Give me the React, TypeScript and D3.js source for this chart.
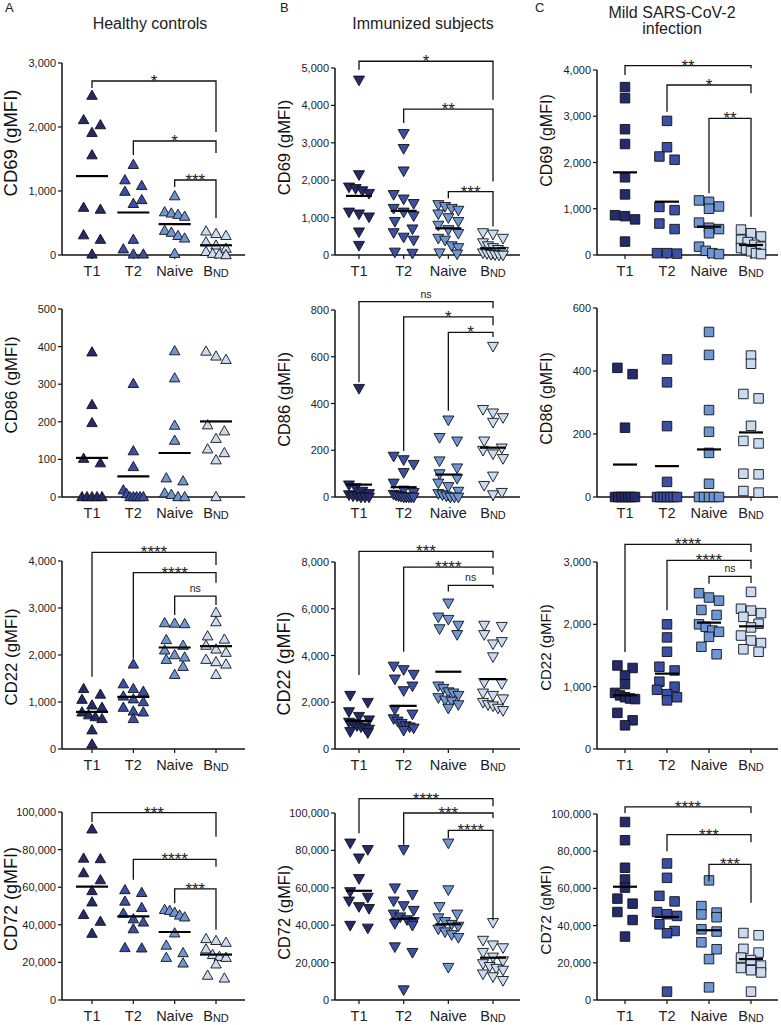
import { useEffect, useRef } from "react";
import * as d3 from "d3";

// B cell groups shown on every panel
const groups = ["T1", "T2", "Naive", "BND"];
const groupColors = ["#232b6d", "#3b4fa5", "#6e96d4", "#c8dbf3"];

const columnTitles = ["Healthy controls", "Immunized subjects", "Mild SARS-CoV-2\ninfection"];
const columnLetters = ["A", "B", "C"];
const rowLabels = ["CD69 (gMFI)", "CD86 (gMFI)", "CD22 (gMFI)", "CD72 (gMFI)"];

// ---------- Healthy controls ----------
const cd69HealthyTicks = [0, 1000, 2000, 3000];
const cd69HealthyValues = [
  [2490, 2110, 2030, 1910, 1560, 740, 710, 310, 240, 10],
  [1410, 1170, 1080, 990, 860, 800, 240, 90, 10, 10],
  [920, 670, 650, 630, 600, 380, 350, 300, 260, 20],
  [370, 330, 300, 200, 150, 100, 50, 20, 10, 0],
];
const cd69HealthyMeans = [1233, 664, 481, 152];
const cd69HealthyBrackets = [
  { from: 0, to: 3, label: "*", y: 2719, left: 2609, right: 1922 },
  { from: 1, to: 3, label: "*", y: 1781, left: 1562, right: 1594 },
  { from: 2, to: 3, label: "***", y: 1172, left: 1062, right: 578 },
];

const cd86HealthyTicks = [0, 100, 200, 300, 400, 500];
const cd86HealthyValues = [
  [385, 245, 197, 102, 90, 0, 0, 0, 0, 0],
  [301, 122, 80, 18, 8, 0, 0, 0, 0, 0],
  [388, 316, 190, 150, 50, 42, 10, 6, 0, 0],
  [387, 374, 365, 191, 175, 155, 127, 117, 98, 0],
];
const cd86HealthyMeans = [104, 55, 117, 201];
const cd86HealthyBrackets: any[] = [];

const cd22HealthyTicks = [0, 1000, 2000, 3000, 4000];
const cd22HealthyValues = [
  [1280, 1160, 1050, 930, 880, 780, 720, 680, 640, 400, 100],
  [1800, 1380, 1280, 1220, 1120, 1060, 1000, 880, 800, 780, 640],
  [2680, 2670, 2660, 2320, 2200, 2100, 2000, 1950, 1900, 1750, 1580],
  [2900, 2700, 2400, 2330, 2200, 2120, 2050, 1900, 1850, 1800, 1580],
];
const cd22HealthyMeans = [789, 1108, 2160, 2188];
const cd22HealthyBrackets = [
  { from: 0, to: 3, label: "****", y: 4185, left: 1535, right: 3915 },
  { from: 1, to: 3, label: "****", y: 3751, left: 1925, right: 3538 },
  { from: 2, to: 3, label: "ns", y: 3254, left: 2849, right: 3062 },
];

const cd72HealthyTicks = [0, 20000, 40000, 60000, 80000, 100000];
const cd72HealthyValues = [
  [90800, 75300, 75000, 67500, 63800, 58000, 52000, 45300, 41700, 35300],
  [58500, 57000, 52400, 49000, 46000, 43000, 41300, 37700, 27700, 27500],
  [48000, 47500, 46500, 45000, 44000, 35500, 29000, 25000, 22500, 19500],
  [32500, 31500, 30500, 27000, 24000, 23000, 22500, 19000, 13000, 11500],
];
const cd72HealthyMeans = [60300, 44450, 36160, 24170];
const cd72HealthyBrackets = [
  { from: 0, to: 3, label: "***", y: 99670, left: 94700, right: 86800 },
  { from: 1, to: 3, label: "****", y: 74800, left: 63900, right: 70900 },
  { from: 2, to: 3, label: "***", y: 59100, left: 51500, right: 37400 },
];

// ---------- Immunized subjects ----------
const cd69ImmTicks = [0, 1000, 2000, 3000, 4000, 5000];
const cd69ImmValues = [
  [4680, 2150, 1820, 1780, 1720, 1650, 1150, 1100, 1020, 620, 260],
  [3250, 2850, 2250, 1620, 1500, 1380, 1250, 1150, 1050, 900, 700, 600, 480, 400, 80, 50],
  [1350, 1300, 1250, 1200, 1100, 1000, 900, 800, 680, 580, 450, 400, 250, 200, 60, 30],
  [600, 560, 450, 330, 250, 200, 150, 100, 60, 40, 20, 10, 0, 0],
];
const cd69ImmMeans = [1580, 1180, 714, 179];
const cd69ImmBrackets = [
  { from: 0, to: 3, label: "*", y: 5180, left: 4955, right: 4150 },
  { from: 1, to: 3, label: "**", y: 3900, left: 3527, right: 1964 },
  { from: 2, to: 3, label: "***", y: 1697, left: 1518, right: 759 },
];

const cd86ImmTicks = [0, 200, 400, 600, 800];
const cd86ImmValues = [
  [465, 52, 40, 25, 15, 10, 5, 5, 0, 0, 0],
  [175, 160, 140, 105, 60, 30, 20, 12, 8, 5, 3, 0, 0, 0, 0, 0],
  [330, 255, 240, 155, 125, 100, 80, 60, 45, 25, 15, 10, 5, 0, 0, 0],
  [645, 375, 360, 340, 320, 240, 210, 200, 185, 165, 90, 50, 20, 10],
];
const cd86ImmMeans = [53, 42, 96, 211];
const cd86ImmBrackets = [
  { from: 0, to: 3, label: "ns", y: 836, left: 491, right: 807 },
  { from: 1, to: 3, label: "*", y: 771, left: 197, right: 735 },
  { from: 2, to: 3, label: "*", y: 704, left: 369, right: 685 },
];

const cd22ImmTicks = [0, 2000, 4000, 6000, 8000];
const cd22ImmValues = [
  [2300, 2000, 1600, 1400, 1250, 1150, 1100, 1000, 950, 900, 850, 750, 700],
  [3550, 3400, 3200, 3000, 2700, 2500, 1700, 1500, 1300, 1200, 1100, 1000, 950, 900, 800],
  [6250, 5650, 5550, 5300, 5150, 4900, 2700, 2600, 2450, 2400, 2300, 2200, 2100, 2050, 1900, 1750],
  [5300, 5250, 4900, 4600, 4500, 3950, 2850, 2800, 2400, 2300, 2150, 2000, 1900, 1850, 1750, 1650],
];
const cd22ImmMeans = [1202, 1846, 3306, 2991];
const cd22ImmBrackets = [
  { from: 0, to: 3, label: "***", y: 8457, left: 3163, right: 8171 },
  { from: 1, to: 3, label: "****", y: 7785, left: 4164, right: 7455 },
  { from: 2, to: 3, label: "ns", y: 6997, left: 6740, right: 6883 },
];

const cd72ImmTicks = [0, 20000, 40000, 60000, 80000, 100000];
const cd72ImmValues = [
  [84000, 80500, 76000, 65000, 58000, 55000, 53000, 50000, 49000, 40000, 38500],
  [80500, 60000, 56500, 53000, 50500, 48000, 46000, 44500, 43000, 42000, 41000, 40000, 28500, 25500, 5500],
  [84000, 59000, 50000, 46000, 44000, 42000, 40500, 39500, 38000, 36500, 35000, 33500, 17500],
  [41500, 32000, 29500, 28000, 25500, 23000, 21000, 19500, 18000, 17000, 16000, 14000, 12500, 10500],
];
const cd72ImmMeans = [58400, 43500, 40500, 22600];
const cd72ImmBrackets = [
  { from: 0, to: 3, label: "****", y: 107700, left: 89200, right: 103600 },
  { from: 1, to: 3, label: "***", y: 100000, left: 83000, right: 97300 },
  { from: 2, to: 3, label: "****", y: 90700, left: 86600, right: 42600 },
];

// ---------- Mild SARS-CoV-2 infection ----------
const cd69CovTicks = [0, 1000, 2000, 3000, 4000];
const cd69CovValues = [
  [3630, 3390, 2720, 2400, 1680, 1310, 860, 840, 770, 290],
  [2900, 2330, 2130, 2060, 1040, 970, 680, 560, 40, 40, 30],
  [1180, 1150, 1050, 1000, 700, 590, 560, 470, 180, 90, 40, 20],
  [550, 470, 400, 330, 280, 220, 180, 150, 120, 80, 40, 20],
];
const cd69CovMeans = [1787, 1153, 613, 216];
const cd69CovBrackets = [
  { from: 0, to: 3, label: "**", y: 4094, left: 3892, right: 4036 },
  { from: 1, to: 3, label: "*", y: 3676, left: 3099, right: 3495 },
  { from: 2, to: 3, label: "**", y: 2955, left: 1333, right: 829 },
];

const cd86CovTicks = [0, 200, 400, 600];
const cd86CovValues = [
  [410, 390, 220, 0, 0, 0, 0, 0, 0, 0],
  [437, 364, 225, 48, 0, 0, 0, 0, 0, 0, 0],
  [524, 451, 276, 207, 140, 42, 0, 0, 0, 0, 0],
  [449, 423, 327, 313, 226, 178, 170, 74, 72, 19, 14],
];
const cd86CovMeans = [103, 98, 151, 205];
const cd86CovBrackets: any[] = [];

const cd22CovTicks = [0, 1000, 2000, 3000];
const cd22CovValues = [
  [1340, 1300, 1180, 1040, 900, 860, 830, 810, 800, 580, 460, 380],
  [2000, 1790, 1560, 1320, 1260, 1080, 1000, 950, 880, 830, 780],
  [2500, 2430, 2380, 2230, 2150, 2000, 1960, 1900, 1880, 1800, 1640, 1520],
  [2520, 2250, 2220, 2180, 2120, 2010, 1950, 1820, 1740, 1700, 1600, 1560],
];
const cd22CovMeans = [861, 1209, 2027, 1968];
const cd22CovBrackets = [
  { from: 0, to: 3, label: "****", y: 3284, left: 1556, right: 3161 },
  { from: 1, to: 3, label: "****", y: 3027, left: 2225, right: 2893 },
  { from: 2, to: 3, label: "ns", y: 2770, left: 2653, right: 2663 },
];

const cd72CovTicks = [0, 20000, 40000, 60000, 80000, 100000];
const cd72CovValues = [
  [95700, 85900, 71100, 64800, 60400, 54500, 51800, 47300, 43000, 34100],
  [73400, 65700, 56000, 53000, 47300, 46100, 45200, 40700, 37100, 35900, 4500],
  [64300, 50500, 47000, 46000, 44500, 38000, 36800, 31000, 27300, 22000, 6800],
  [36000, 34800, 27500, 25500, 22800, 21500, 18500, 17200, 16000, 14800, 4500],
];
const cd72CovMeans = [60900, 44650, 37500, 22000];
const cd72CovBrackets = [
  { from: 0, to: 3, label: "****", y: 103800, left: 100500, right: 100500 },
  { from: 1, to: 3, label: "***", y: 88900, left: 80000, right: 84800 },
  { from: 2, to: 3, label: "***", y: 72900, left: 63900, right: 52300 },
];

// panels[row][column]
const panels = [
  [
    { ticks: cd69HealthyTicks, values: cd69HealthyValues, means: cd69HealthyMeans, brackets: cd69HealthyBrackets },
    { ticks: cd69ImmTicks, values: cd69ImmValues, means: cd69ImmMeans, brackets: cd69ImmBrackets },
    { ticks: cd69CovTicks, values: cd69CovValues, means: cd69CovMeans, brackets: cd69CovBrackets },
  ],
  [
    { ticks: cd86HealthyTicks, values: cd86HealthyValues, means: cd86HealthyMeans, brackets: cd86HealthyBrackets },
    { ticks: cd86ImmTicks, values: cd86ImmValues, means: cd86ImmMeans, brackets: cd86ImmBrackets },
    { ticks: cd86CovTicks, values: cd86CovValues, means: cd86CovMeans, brackets: cd86CovBrackets },
  ],
  [
    { ticks: cd22HealthyTicks, values: cd22HealthyValues, means: cd22HealthyMeans, brackets: cd22HealthyBrackets },
    { ticks: cd22ImmTicks, values: cd22ImmValues, means: cd22ImmMeans, brackets: cd22ImmBrackets },
    { ticks: cd22CovTicks, values: cd22CovValues, means: cd22CovMeans, brackets: cd22CovBrackets },
  ],
  [
    { ticks: cd72HealthyTicks, values: cd72HealthyValues, means: cd72HealthyMeans, brackets: cd72HealthyBrackets },
    { ticks: cd72ImmTicks, values: cd72ImmValues, means: cd72ImmMeans, brackets: cd72ImmBrackets },
    { ticks: cd72CovTicks, values: cd72CovValues, means: cd72CovMeans, brackets: cd72CovBrackets },
  ],
];

// layout
const FONT = "'Liberation Sans', Arial, Helvetica, sans-serif";
const cols = [
  { axisX: 62, first: 92, last: 216, end: 245, marker: "up", size: 10.5, meanW: 32, titleX: 150, letterX: 5 },
  { axisX: 335, first: 359, last: 493, end: 520, marker: "down", size: 11, meanW: 26, titleX: 423, letterX: 280 },
  { axisX: 597, first: 625, last: 751, end: 778, marker: "square", size: 9.5, meanW: 24, titleX: 672, letterX: 535 },
];
const rowBottoms = [255, 497, 749, 1000];
const rowTops = [
  [63, 68, 70],
  [309, 310, 308],
  [561, 562, 562],
  [812, 813, 814],
];
const labelShift = [
  [-16, -14, -22],
  [-18, -4, -4],
  [2, 8, -8],
  [-7, 6, 3],
];
const labelSizes = [
  [18.5, 16.5, 16],
  [16.8, 16.4, 16],
  [16.8, 18, 15],
  [18, 16.4, 15.5],
];

// place points side by side when they would overlap (Prism-like scatter)
function swarm(vals: number[], y: (v: number) => number, size: number, maxHalf: number) {
  const pts = vals.map((v) => ({ v, py: y(v) })).sort((a, b) => a.py - b.py);
  const rows: { v: number; py: number }[][] = [];
  pts.forEach((p) => {
    const last = rows[rows.length - 1];
    if (last && p.py - last[0].py < size * 0.85) last.push(p);
    else rows.push([p]);
  });
  const out: { dx: number; py: number }[] = [];
  rows.forEach((r) => {
    const k = r.length;
    const sp = k > 1 ? Math.min(size * 1.6, (2 * maxHalf) / (k - 1)) : 0;
    r.forEach((p, i) => out.push({ dx: (i - (k - 1) / 2) * sp, py: p.py }));
  });
  return out;
}

function markerPath(kind: string, s: number) {
  const w = s / 2;
  const h = s * 0.88;
  if (kind === "up") return `M0,${-h * 0.6}L${w},${h * 0.4}L${-w},${h * 0.4}Z`;
  if (kind === "down") return `M0,${h * 0.6}L${w},${-h * 0.4}L${-w},${-h * 0.4}Z`;
  return `M${-w},${-w}H${w}V${w}H${-w}Z`;
}

const App = () => {
  const ref = useRef<SVGSVGElement>(null);

  useEffect(() => {
    if (!ref.current) return;
    const svg = d3.select(ref.current);
    svg.selectAll("*").remove();
    const fmt = d3.format(",");

    // column letters and titles
    cols.forEach((col, c) => {
      svg.append("text")
        .attr("x", col.letterX)
        .attr("y", 12)
        .style("font-size", "13px")
        .style("fill", "#222")
        .text(columnLetters[c]);

      const lines = columnTitles[c].split("\n");
      lines.forEach((ln, i) => {
        svg.append("text")
          .attr("x", col.titleX)
          .attr("y", lines.length > 1 ? 18 + i * 16 : 29)
          .attr("text-anchor", "middle")
          .style("font-size", "16px")
          .style("fill", "#222")
          .text(ln);
      });
    });

    panels.forEach((row, r) => {
      row.forEach((p, c) => {
        const col = cols[c];
        const top = rowTops[r][c];
        const bottom = rowBottoms[r];
        const maxT = p.ticks[p.ticks.length - 1];
        const y = d3.scaleLinear().domain([0, maxT]).range([bottom, top]);
        const x = d3.scalePoint<string>().domain(groups).range([col.first, col.last]);
        const g = svg.append("g");

        // y axis
        g.append("line")
          .attr("x1", col.axisX).attr("x2", col.axisX)
          .attr("y1", bottom).attr("y2", top)
          .attr("stroke", "#111").attr("stroke-width", 1.5);
        p.ticks.forEach((t) => {
          g.append("line")
            .attr("x1", col.axisX - 4).attr("x2", col.axisX)
            .attr("y1", y(t)).attr("y2", y(t))
            .attr("stroke", "#111").attr("stroke-width", 1.2);
          g.append("text")
            .attr("x", col.axisX - 6)
            .attr("y", y(t) + 4)
            .attr("text-anchor", "end")
            .style("font-size", "11px")
            .style("fill", "#222")
            .text(fmt(t));
        });

        // x axis
        g.append("line")
          .attr("x1", col.axisX).attr("x2", col.end)
          .attr("y1", bottom).attr("y2", bottom)
          .attr("stroke", "#111").attr("stroke-width", 1.5);
        groups.forEach((gr) => {
          g.append("line")
            .attr("x1", x(gr)!).attr("x2", x(gr)!)
            .attr("y1", bottom).attr("y2", bottom + 4)
            .attr("stroke", "#111").attr("stroke-width", 1.2);
          const t = g.append("text")
            .attr("x", x(gr)!)
            .attr("y", bottom + 21)
            .attr("text-anchor", "middle")
            .style("font-size", "14.5px")
            .style("fill", "#222");
          if (gr === "BND") {
            t.append("tspan").text("B");
            t.append("tspan").style("font-size", "11px").attr("dy", 1).text("ND");
          } else {
            t.text(gr);
          }
        });

        // y label
        const mid = (top + bottom) / 2 + labelShift[r][c];
        g.append("text")
          .attr("transform", `translate(${col.axisX - 51},${mid}) rotate(-90)`)
          .attr("text-anchor", "middle")
          .attr("dy", "0.35em")
          .style("font-size", `${labelSizes[r][c]}px`)
          .style("fill", "#111")
          .text(rowLabels[r]);

        // points
        p.values.forEach((vals, i) => {
          const pos = swarm(vals, y, col.size, 10);
          g.selectAll(null)
            .data(pos)
            .enter()
            .append("path")
            .attr("d", markerPath(col.marker, col.size))
            .attr("transform", (d) => `translate(${x(groups[i])! + d.dx},${d.py})`)
            .attr("fill", groupColors[i])
            .attr("stroke", "#111")
            .attr("stroke-width", 0.9);
        });

        // mean lines
        p.means.forEach((m, i) => {
          g.append("line")
            .attr("x1", x(groups[i])! - col.meanW / 2)
            .attr("x2", x(groups[i])! + col.meanW / 2)
            .attr("y1", y(m)).attr("y2", y(m))
            .attr("stroke", "#000").attr("stroke-width", 2.2);
        });

        // significance brackets
        p.brackets.forEach((b: any) => {
          const x1 = x(groups[b.from])!;
          const x2 = x(groups[b.to])!;
          g.append("path")
            .attr("d", `M${x1},${y(b.left)}V${y(b.y)}H${x2}V${y(b.right)}`)
            .attr("fill", "none")
            .attr("stroke", "#111")
            .attr("stroke-width", 1.3);
          const isNs = b.label === "ns";
          g.append("text")
            .attr("x", (x1 + x2) / 2)
            .attr("y", isNs ? y(b.y) - 4 : y(b.y) + 6)
            .attr("text-anchor", "middle")
            .style("font-size", isNs ? "10.5px" : "17px")
            .style("fill", "#222")
            .text(b.label);
        });
      });
    });
  }, []);

  return (
    <svg
      ref={ref}
      width={781}
      height={1025}
      style={{ position: "absolute", left: 0, top: 0, background: "#fff", fontFamily: FONT }}
    />
  );
};

export default App;
